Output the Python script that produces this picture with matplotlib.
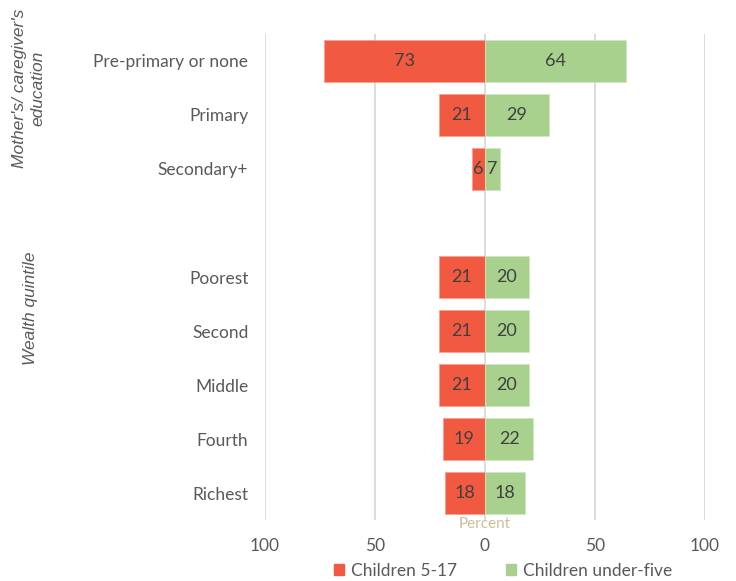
import matplotlib.pyplot as plt
import numpy as np

plt.rcParams['font.family'] = ['Lato', 'DejaVu Sans']

categories = ["Pre-primary or none", "Primary", "Secondary+", "",
              "Poorest", "Second", "Middle", "Fourth", "Richest"]
children_5_17 = [73, 21, 6, None, 21, 21, 21, 19, 18]
children_under5 = [64, 29, 7, None, 20, 20, 20, 22, 18]
tick_values = [-100, -50, 0, 50, 100]
tick_labels = ["100", "50", "0", "50", "100"]

RED = "#F15A40"
GREEN = "#A9D18E"
TXT = "#595959"

fig = plt.figure(figsize=(7.36, 5.81), dpi=100)
ax = fig.add_axes([265/736, 1 - 520/581, 440/736, 486/581])

y = np.arange(len(categories))
for i, (a, b) in enumerate(zip(children_5_17, children_under5)):
    if a is None:
        continue
    ax.barh(i, -a, height=0.78, color=RED, edgecolor="#F8A090", linewidth=0.6, zorder=3)
    ax.barh(i, b, height=0.78, color=GREEN, edgecolor="#D0E6C2", linewidth=0.6, zorder=3)
    ax.text(-a / 2, i, str(a), ha="center", va="center", fontsize=13, color="#404040", zorder=4)
    ax.text(b / 2, i, str(b), ha="center", va="center", fontsize=13, color="#404040", zorder=4)

ax.set_xlim(-100, 100)
ax.set_ylim(len(categories) - 0.5, -0.5)
ax.set_xticks(tick_values)
ax.set_xticklabels(tick_labels, fontsize=12.5, color=TXT)
ax.set_yticks(y)
ax.set_yticklabels(categories, fontsize=12.5, color=TXT)
ax.tick_params(length=0)
ax.tick_params(axis="x", pad=13)
ax.tick_params(axis="y", pad=12)
ax.grid(axis="x", color="#D9D9D9", linewidth=1.3, zorder=0)
for s in ax.spines.values():
    s.set_visible(False)

ax.annotate("Percent", xy=(0, 0), xycoords=("data", "axes fraction"),
            xytext=(0, 2.5), textcoords="offset points",
            ha="center", va="top", fontsize=11, color="#C9BF9A", zorder=5)

# group labels on the left
fig.text(29/736, 1 - 88/581, "Mother's/ caregiver's\neducation", rotation=90,
         ha="center", va="center", fontsize=12.5, style="italic", color=TXT,
         family="Liberation Sans", linespacing=1.3)
fig.text(30/736, 1 - 308/581, "Wealth quintile", rotation=90,
         ha="center", va="center", fontsize=12.5, style="italic", color=TXT,
         family="Liberation Sans")

handles = [plt.Rectangle((0, 0), 1, 1, color=RED), plt.Rectangle((0, 0), 1, 1, color=GREEN)]
fig.legend(handles, ["Children 5-17", "Children under-five"], loc="center",
           bbox_to_anchor=(503/736, 1 - 571/581), ncol=2, frameon=False,
           fontsize=12.5, labelcolor=TXT, handlelength=0.6, handleheight=0.6,
           handletextpad=0.4, columnspacing=2.8)

fig.savefig("out.png", dpi=100)
